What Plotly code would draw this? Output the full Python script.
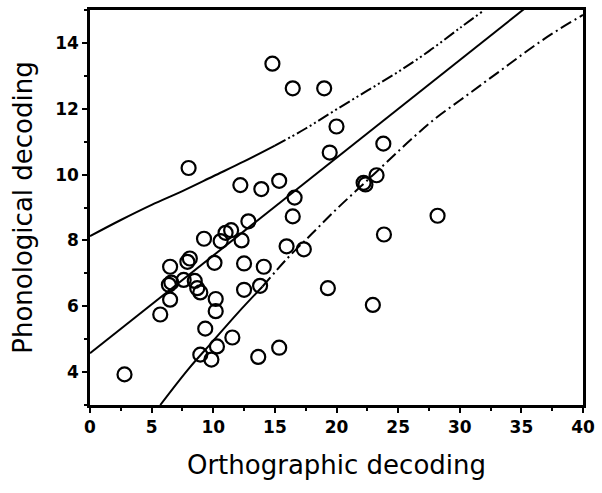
import plotly.graph_objects as go

# Scatter data (Orthographic decoding, Phonological decoding)
ortho = [2.8, 5.7, 6.5, 6.4, 6.6, 6.5, 7.6, 7.9, 8.1, 8.0, 8.5, 8.7, 8.95, 9.25,
         9.35, 8.95, 9.85, 10.1, 10.2, 10.2, 10.3, 10.6, 11.0, 11.45, 11.55, 12.2,
         12.3, 12.5, 12.5, 12.85, 13.65, 13.8, 13.9, 14.1, 14.8, 15.35, 15.35, 15.95,
         16.45, 16.45, 16.6, 17.35, 19.0, 19.3, 19.45, 20.0, 22.2, 22.35, 22.95,
         23.25, 23.8, 23.85, 28.2]
phono = [3.93, 5.75, 6.2, 6.65, 6.72, 7.2, 6.8, 7.35, 7.45, 10.2, 6.77, 6.55, 6.42, 8.05,
         5.32, 4.53, 4.38, 7.32, 6.22, 5.85, 4.78, 7.98, 8.23, 8.31, 5.05, 9.68,
         8.0, 7.3, 6.5, 8.58, 4.46, 6.62, 9.56, 7.2, 13.37, 9.81, 4.74, 7.82,
         12.62, 8.73, 9.3, 7.73, 12.62, 6.55, 10.67, 11.46, 9.75, 9.7, 6.04,
         9.98, 10.94, 8.18, 8.75]

# Regression line
fit_x = [0, 40]
fit_y = [4.57, 16.45]

# Upper band: solid part, then dash-dot-dot part
up_solid_x = [0, 2.5, 5, 7.5, 10, 12.5, 15]
up_solid_y = [8.13, 8.62, 9.08, 9.5, 9.95, 10.4, 10.88]
up_dash_x = [15, 17.5, 20, 22.5, 25, 27.5, 30, 32]
up_dash_y = [10.88, 11.4, 11.98, 12.55, 13.12, 13.75, 14.45, 15.0]

# Lower band: solid part, then dashed part
lo_solid_x = [5.7, 8, 10, 12, 14]
lo_solid_y = [3.0, 4.1, 4.95, 5.8, 6.6]
lo_dash_x = [14, 16, 18, 20, 22, 24, 26, 28, 30, 32, 34, 36, 38, 40]
lo_dash_y = [6.6, 7.45, 8.2, 8.95, 9.65, 10.35, 11.05, 11.7, 12.25, 12.8, 13.35, 13.9, 14.4, 14.85]

x_ticks = [0, 5, 10, 15, 20, 25, 30, 35, 40]
y_ticks = [4, 6, 8, 10, 12, 14]

fig = go.Figure()
lw = 2
fig.add_trace(go.Scatter(x=fit_x, y=fit_y, mode="lines",
                         line=dict(color="black", width=lw)))
fig.add_trace(go.Scatter(x=up_solid_x, y=up_solid_y, mode="lines",
                         line=dict(color="black", width=lw, shape="spline")))
fig.add_trace(go.Scatter(x=up_dash_x, y=up_dash_y, mode="lines",
                         line=dict(color="black", width=lw, shape="spline",
                                   dash="12px,3px,2px,3px,2px,3px")))
fig.add_trace(go.Scatter(x=lo_solid_x, y=lo_solid_y, mode="lines",
                         line=dict(color="black", width=lw, shape="spline")))
fig.add_trace(go.Scatter(x=lo_dash_x, y=lo_dash_y, mode="lines",
                         line=dict(color="black", width=lw, shape="spline",
                                   dash="12px,4px,2px,4px")))
fig.add_trace(go.Scatter(x=ortho, y=phono, mode="markers",
                         marker=dict(symbol="circle-open", size=14, color="black",
                                     line=dict(width=2.2, color="black"))))

axis_common = dict(showgrid=False, zeroline=False, showline=True, mirror=True,
                   linecolor="black", linewidth=2.5, ticks="outside", ticklen=5,
                   tickwidth=2, tickcolor="black",
                   tickfont=dict(family="DejaVu Sans", size=17, color="black", weight="bold"))

fig.update_layout(
    width=602, height=493,
    margin=dict(l=90, r=14, t=7, b=88),
    paper_bgcolor="white", plot_bgcolor="white",
    showlegend=False,
    xaxis=dict(range=[0, 40], tickvals=x_ticks,
               title=dict(text="Orthographic decoding", standoff=20,
                          font=dict(family="DejaVu Sans", size=26, color="black")),
               minor=dict(dtick=2.5, tick0=0, ticks="outside", ticklen=3, tickwidth=1.5,
                          tickcolor="black"),
               **axis_common),
    yaxis=dict(range=[3, 15], tickvals=y_ticks,
               title=dict(text="Phonological decoding", standoff=16,
                          font=dict(family="DejaVu Sans", size=26, color="black")),
               minor=dict(dtick=1, tick0=0, ticks="outside", ticklen=3, tickwidth=1.5,
                          tickcolor="black"),
               **axis_common),
)

fig.write_html("out.html")
